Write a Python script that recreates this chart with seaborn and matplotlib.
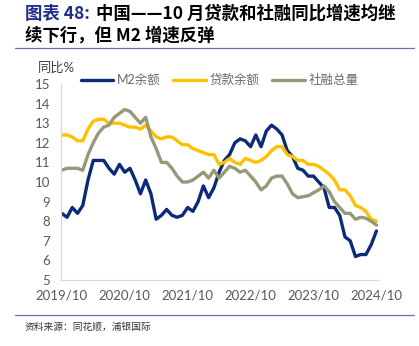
import numpy as np
import pandas as pd
import matplotlib
matplotlib.use("Agg")
import matplotlib.pyplot as plt
import seaborn as sns

# ---------------- data ----------------
months = pd.period_range("2019-10", "2024-10", freq="M").strftime("%Y/%m").tolist()

m2 = [8.4, 8.2, 8.7,
      8.4, 8.8, 10.1, 11.1, 11.1, 11.1, 10.7, 10.4, 10.9, 10.5, 10.7, 10.1,
      9.4, 10.1, 9.4, 8.1, 8.3, 8.6, 8.3, 8.2, 8.3, 8.7, 8.5, 9.0,
      9.8, 9.2, 9.7, 10.5, 11.1, 11.4, 12.0, 12.2, 12.1, 11.8, 12.4, 11.8,
      12.6, 12.9, 12.7, 12.4, 11.6, 11.3, 10.7, 10.6, 10.3, 10.3, 10.0, 9.7,
      8.7, 8.7, 8.3, 7.2, 7.0, 6.2, 6.3, 6.3, 6.8, 7.5]

loans = [12.4, 12.4, 12.3,
         12.1, 12.1, 12.7, 13.1, 13.2, 13.2, 13.0, 13.0, 13.0, 12.9, 12.8, 12.8,
         12.7, 12.9, 12.6, 12.3, 12.2, 12.3, 12.3, 12.1, 11.9, 11.9, 11.7, 11.6,
         11.5, 11.4, 11.4, 10.9, 11.0, 11.2, 11.0, 10.9, 11.2, 11.1, 11.0, 11.1,
         11.3, 11.6, 11.8, 11.8, 11.4, 11.3, 11.1, 11.1, 10.9, 10.9, 10.8, 10.6,
         10.4, 10.1, 9.6, 9.6, 9.3, 8.8, 8.7, 8.5, 8.1, 8.0]

tsf = [10.6, 10.7, 10.7,
       10.7, 10.6, 11.4, 12.0, 12.5, 12.8, 12.9, 13.3, 13.5, 13.7, 13.6, 13.3,
       13.0, 13.3, 12.3, 11.7, 11.0, 11.0, 10.7, 10.3, 10.0, 10.0, 10.1, 10.3,
       10.5, 10.2, 10.6, 10.2, 10.5, 10.8, 10.7, 10.5, 10.6, 10.3, 10.0, 9.6,
       9.8, 10.2, 10.3, 10.3, 9.9, 9.4, 9.2, 9.25, 9.3, 9.45, 9.6, 9.8,
       9.5, 9.0, 8.7, 8.4, 8.4, 8.1, 8.2, 8.15, 8.0, 7.8]

series_names = ["M2余额", "贷款余额", "社融总量"]
series_colors = ["#0B2B78", "#FFC000", "#979779"]
xtick_labels = ["2019/10", "2020/10", "2021/10", "2022/10", "2023/10", "2024/10"]
yticks = list(range(5, 16))

# ---------------- frame ----------------
t = np.arange(len(months))
df = pd.concat([
    pd.DataFrame({"t": t, "month": months, "value": v, "series": n})
    for v, n in zip([m2, loans, tsf], series_names)
], ignore_index=True)

sns.set_theme(style="white")
plt.rcParams["font.family"] = ["Lato", "Noto Sans CJK SC", "DejaVu Sans"]
plt.rcParams["axes.unicode_minus"] = False
CJK = ["Noto Sans CJK SC", "DejaVu Sans"]

W, H = 419, 346
fig = plt.figure(figsize=(W / 100, H / 100), dpi=100)
ax = fig.add_axes([61 / W, 1 - 280 / H, (378 - 61) / W, (280 - 84) / H])

sns.lineplot(data=df, x="t", y="value", hue="series", hue_order=series_names,
             palette=dict(zip(series_names, series_colors)), linewidth=2.4,
             ax=ax, legend=False, sort=False)
for ln in ax.lines:
    ln.set_solid_capstyle("round")
    ln.set_solid_joinstyle("round")

ax.set_xlim(-0.15, 60.3)
ax.set_ylim(5, 15)
ax.set_yticks(yticks)
ax.set_yticklabels([str(v) for v in yticks])
xt = [months.index(s) for s in xtick_labels]
ax.set_xticks(xt)
ax.set_xticklabels(xtick_labels)
ax.set_xlabel("")
ax.set_ylabel("")
ax.tick_params(axis="both", length=0, labelsize=9.5, colors="#595959")
ax.tick_params(axis="y", pad=8)
ax.tick_params(axis="x", pad=7)
for s in ["top", "right"]:
    ax.spines[s].set_visible(False)
for s in ["left", "bottom"]:
    ax.spines[s].set_color("#D9D9D9")
    ax.spines[s].set_linewidth(0.9)
ax.grid(False)

# legend
leg = ax.legend(ax.lines[:3], series_names, loc="center", bbox_to_anchor=(0.50, 1.02),
                ncol=3, frameon=False, fontsize=9, handlelength=2.6,
                handletextpad=0.3, columnspacing=1.0, borderaxespad=0, borderpad=0)
for txt in leg.get_texts():
    txt.set_color("#6A6A6A")

# y unit label
fig.text(38 / W, 1 - 68 / H, "同比%", fontsize=9.5, color="#404040",
         ha="left", va="center")

# title
fig.canvas.draw()
renderer = fig.canvas.get_renderer()
t1 = fig.text(25 / W, 1 - 14 / H, "图表 48:", fontsize=12.5, fontweight="bold",
              color="#1F2F8F", ha="left", va="center", family=CJK)
bb = t1.get_window_extent(renderer=renderer)
fig.text((bb.x1 + 6) / W, 1 - 14 / H, "中国——10 月贷款和社融同比增速均继",
         fontsize=12.5, fontweight="bold", color="black", ha="left", va="center",
         family=CJK)
fig.text(25 / W, 1 - 36 / H, "续下行，但 M2 增速反弹", fontsize=12.5,
         fontweight="bold", color="black", ha="left", va="center", family=CJK)

# separators
fig.add_artist(plt.Line2D([15 / W, 414 / W], [1 - 48 / H, 1 - 48 / H],
                          color="#6F6FA3", lw=0.9, transform=fig.transFigure))
fig.add_artist(plt.Line2D([15 / W, 414 / W], [1 - 315 / H, 1 - 315 / H],
                          color="#6F6FA3", lw=0.9, transform=fig.transFigure))

# source
fig.text(25 / W, 1 - 327 / H, "资料来源：同花顺，浦银国际", fontsize=7,
         color="#333333", ha="left", va="center", family=CJK)

fig.savefig("out.png", dpi=100)
